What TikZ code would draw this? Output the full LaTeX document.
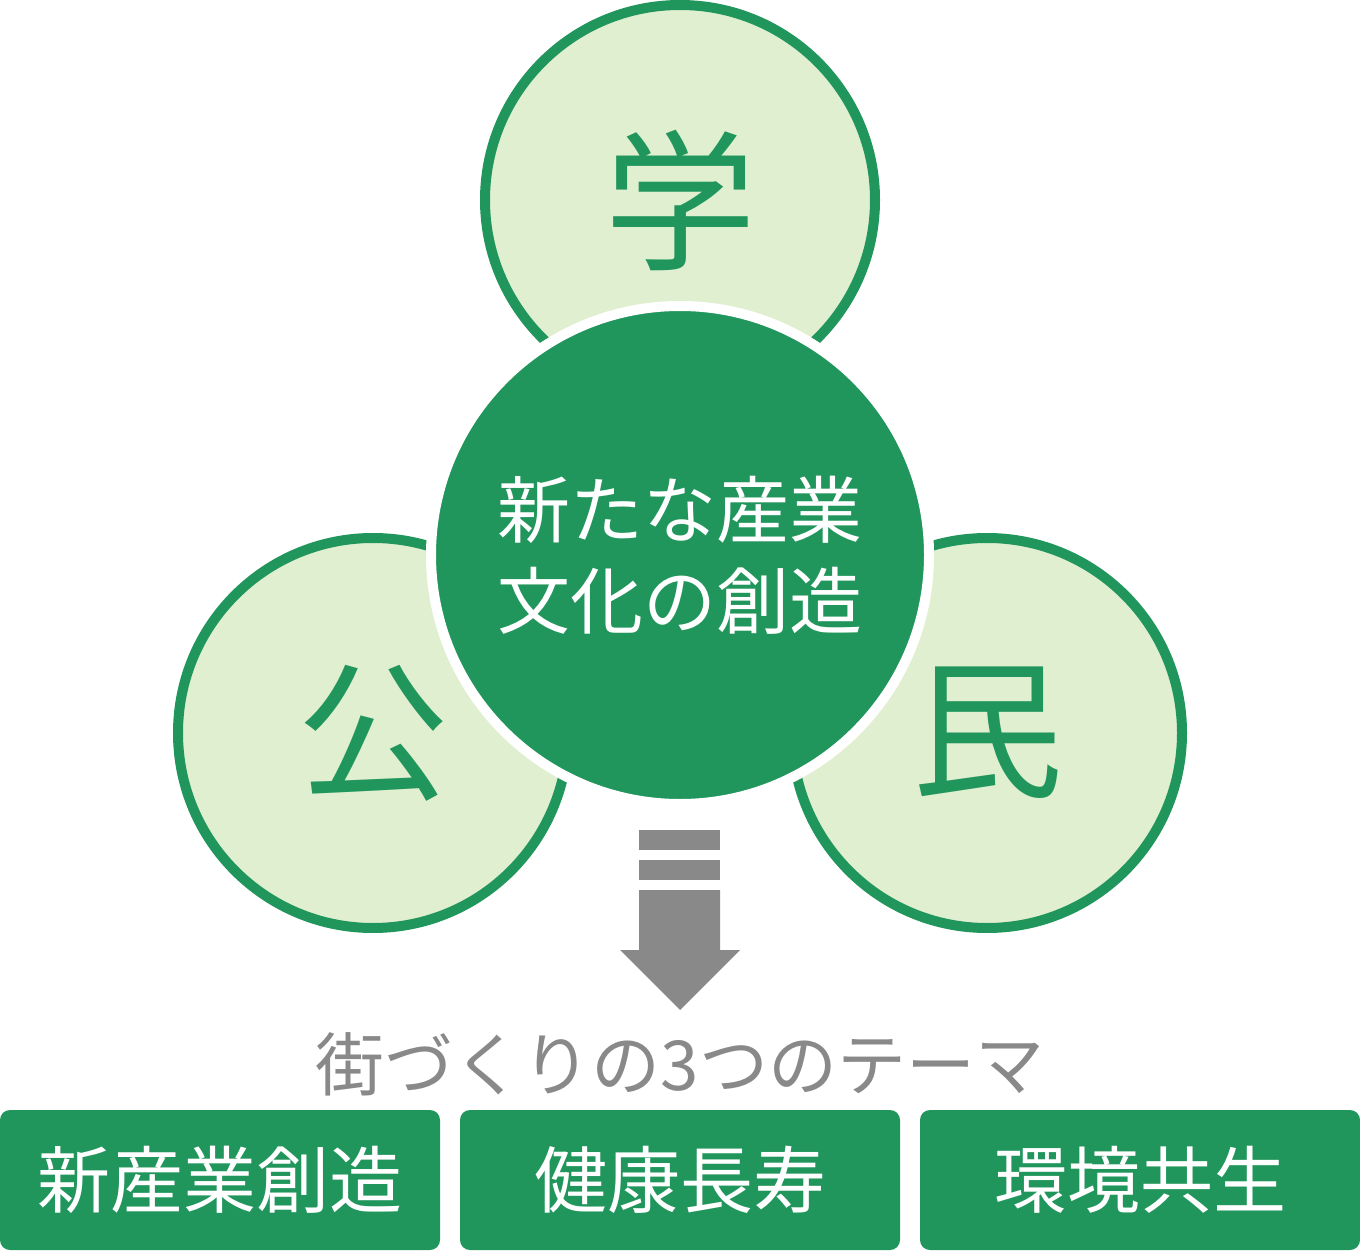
\documentclass[tikz,border=0pt]{standalone}
\usepackage{fontspec}
\setmainfont{Noto Sans CJK JP}
\usepackage{tikz}
\definecolor{kgreen}{HTML}{21965C}
\definecolor{klight}{HTML}{E1EFD1}
\definecolor{kgray}{HTML}{898989}

\begin{document}
\begin{tikzpicture}[x=0.5pt,y=-0.5pt,
  partner/.style={circle,draw=kgreen,fill=klight,line width=5pt,minimum size=195pt,inner sep=0pt,text=kgreen,font=\fontsize{76pt}{80pt}\selectfont},
  theme/.style={rectangle,rounded corners=5pt,fill=kgreen,minimum width=220pt,minimum height=70pt,inner sep=0pt,text=white,font=\fontsize{36.5pt}{40pt}\selectfont}]
\useasboundingbox (0,0) rectangle (1360,1251);

\node[partner] (gaku) at (680,200) {学};
\node[partner] (kou) at (373,733) {公};
\node[partner] (min) at (987,733) {民};

\node[circle,draw=white,fill=kgreen,line width=5pt,minimum size=249pt,inner sep=0pt,
  text=white,align=center,font=\fontsize{36.5pt}{45.5pt}\selectfont] (core) at (680,555) {新たな産業\\文化の創造};

% arrow
\fill[kgray] (639,830) rectangle (720,850);
\fill[kgray] (639,860) rectangle (720,880);
\fill[kgray] (639,890) -- (720,890) -- (720,950) -- (740,950) -- (680,1010) -- (620,950) -- (639,950) -- cycle;

\node[text=kgray,font=\fontsize{34.5pt}{38pt}\selectfont] (title) at (680,1064) {街づくりの3つのテーマ};

\node[theme] (t1) at (220,1180) {新産業創造};
\node[theme] (t2) at (680,1180) {健康長寿};
\node[theme] (t3) at (1140,1180) {環境共生};
\end{tikzpicture}
\end{document}
